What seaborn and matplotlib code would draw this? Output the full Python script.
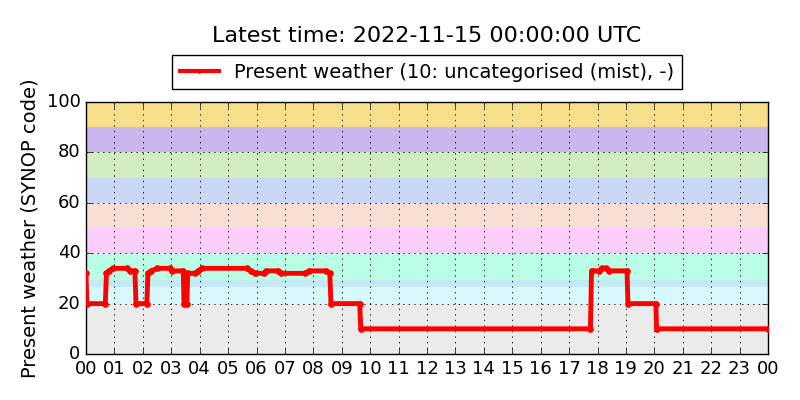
import matplotlib
matplotlib.use('Agg')
import matplotlib.pyplot as plt
import seaborn as sns
import pandas as pd

# Present weather (SYNOP code) over the day, hours since 00 UTC
hours = [0.00, 0.03, 0.68, 0.72, 0.80, 0.95, 1.45, 1.55, 1.72, 1.76,
         2.14, 2.18, 2.30, 2.50, 2.95, 3.02, 3.42, 3.45, 3.55, 3.58,
         3.85, 3.95, 4.08, 5.65, 5.80, 5.95, 6.25, 6.35, 6.75, 6.85,
         7.70, 7.85, 8.45, 8.58, 8.62, 9.63, 9.67, 17.75, 17.79, 18.05,
         18.15, 18.30, 18.40, 19.04, 19.07, 20.05, 20.08, 24.00]
codes = [32, 20, 20, 32, 33, 34, 34, 33, 33, 20,
         20, 32, 33, 34, 34, 33, 33, 20, 20, 32,
         32, 33, 34, 34, 33, 32, 32, 33, 33, 32,
         32, 33, 33, 32, 20, 20, 10, 10, 33, 33,
         34, 34, 33, 33, 20, 20, 10, 10]

# background bands of code groups
band_lo = [0, 20, 26.6, 29.4, 40, 50, 60, 70, 80, 90]
band_hi = [20, 26.6, 29.4, 40, 50, 60, 70, 80, 90, 100]
band_colors = ['#ebebeb', '#d7f9fd', '#c4e9f2', '#b9fde5', '#fbcdfb',
               '#f8ded5', '#c9d6f4', '#d3ebc1', '#c9b6ed', '#f7de8a']

hour_ticks = list(range(25))
hour_labels = ['00', '01', '02', '03', '04', '05', '06', '07', '08', '09', '10', '11',
               '12', '13', '14', '15', '16', '17', '18', '19', '20', '21', '22', '23', '00']
y_ticks = [0, 20, 40, 60, 80, 100]

title = 'Latest time: 2022-11-15 00:00:00 UTC'
label = 'Present weather (10: uncategorised (mist), -)'

df = pd.DataFrame({'hour': hours, 'code': codes})

plt.style.use('classic')
fig, ax = plt.subplots(figsize=(8, 4), dpi=100)
fig.patch.set_facecolor('white')
fig.subplots_adjust(left=0.1075, right=0.96, top=0.745, bottom=0.115)

for lo, hi, c in zip(band_lo, band_hi, band_colors):
    ax.axhspan(lo, hi, color=c, lw=0, zorder=0)

sns.lineplot(data=df, x='hour', y='code', ax=ax, color='red', lw=3.5,
             marker='.', markersize=8, markeredgecolor='red', label=label, zorder=3)

ax.set_xlim(0, 24)
ax.set_ylim(0, 100)
ax.set_xticks(hour_ticks)
ax.set_xticklabels(hour_labels)
ax.set_yticks(y_ticks)
ax.tick_params(labelsize=13)
ax.grid(True, color='black', linestyle=':', lw=0.6)
ax.set_axisbelow(False)
ax.set_xlabel('')
ax.set_ylabel('Present weather (SYNOP code)', fontsize=14)
ax.set_title(title, fontsize=16, pad=43)
leg = ax.legend(loc='lower center', bbox_to_anchor=(0.5, 1.05), fontsize=14,
                numpoints=1, borderaxespad=0, handlelength=2.0, fancybox=False)
for h in leg.get_lines():
    h.set_linewidth(3)
    h.set_markersize(5)

plt.savefig('out.png', dpi=100, facecolor='white')
